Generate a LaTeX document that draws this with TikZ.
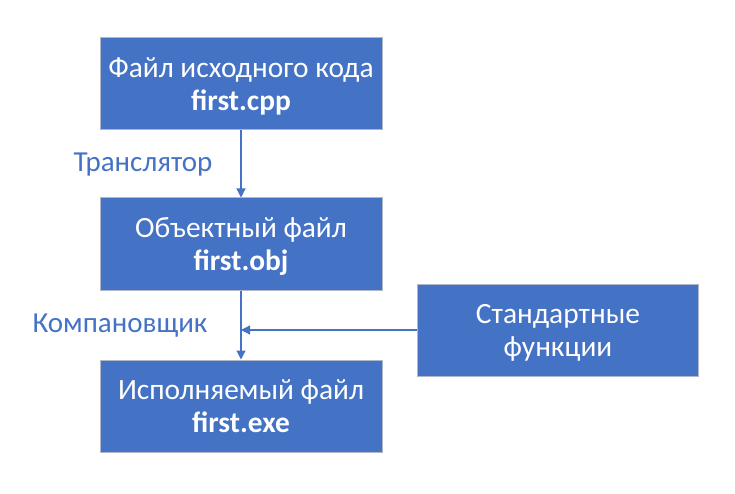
\documentclass[tikz,border=0pt]{standalone}
\usepackage{fontspec}
\setmainfont{Carlito}
\usetikzlibrary{arrows.meta}
\definecolor{boxblue}{HTML}{4472C4}
\definecolor{boxedge}{HTML}{B0B8C8}
\newcommand\myTopStrut{\rule{0pt}{29pt}}
\tikzset{
  block/.style={draw=boxedge, line width=1pt, fill=boxblue, text=white,
    minimum width=282pt, minimum height=92pt, align=center, inner sep=0pt,
    font=\fontsize{29.4}{33}\selectfont},
  conn/.style={draw=boxblue, line width=1.2pt, -{Triangle[length=9pt,width=9pt]}},
  lbl/.style={text=boxblue, font=\fontsize{29}{33}\selectfont, inner sep=0pt}
}
\begin{document}
\begin{tikzpicture}[x=1pt,y=-1pt]
\useasboundingbox (0,0) rectangle (735,494);
\node[block] (src) at (241,84) {\myTopStrut Файл исходного кода\\\textbf{first.cpp}\strut};
\node[block] (obj) at (241,244) {\myTopStrut Объектный файл\\\textbf{first.obj}\strut};
\node[block] (exe) at (241,406) {\myTopStrut Исполняемый файл\\\textbf{first.exe}\strut};
\node[block, minimum width=281pt] (std) at (558,330) {\myTopStrut Стандартные\\функции\strut};
\coordinate (join) at (241,330);
\draw[conn] (src) -- (obj);
\draw[conn] (obj) -- (exe);
\draw[conn] (std) -- (join);
\node[lbl] (tr) at (143,165) {Транслятор};
\node[lbl] (km) at (120,326) {Компановщик};
\end{tikzpicture}
\end{document}
